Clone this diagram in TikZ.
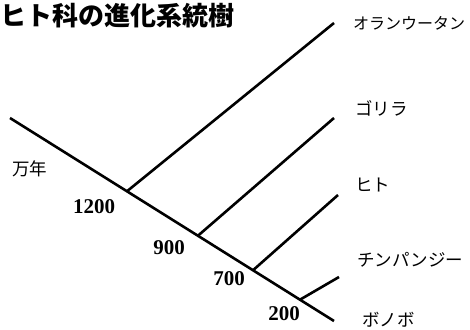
\documentclass[tikz,border=0pt]{standalone}
\usepackage{fontspec}
\setmainfont{Liberation Serif}
\newfontfamily\jp{Noto Sans CJK JP}
\usetikzlibrary{calc}
\begin{document}
\begin{tikzpicture}[x=1pt,y=-1pt,
  branch/.style={line width=2.6pt,line cap=butt},
  sp/.style={font=\jp\fontsize{17.5}{17.5}\selectfont,anchor=west,inner sep=0pt},
  yr/.style={font=\bfseries\fontsize{21}{21}\selectfont,inner sep=0pt},
  ttl/.style={font=\jp\bfseries\fontsize{26}{26}\selectfont,anchor=west,inner sep=0pt}]
\useasboundingbox (0,0) rectangle (470,329);
\node[ttl] (title) at (0,16) {ヒト科の進化系統樹};
% main line
\coordinate (s) at (10,118);
\coordinate (e) at (334,321);
\coordinate (j1) at ($(s)!0.361!(e)$);
\coordinate (j2) at ($(s)!0.580!(e)$);
\coordinate (j3) at ($(s)!0.750!(e)$);
\coordinate (j4) at ($(s)!0.895!(e)$);
\coordinate (t1) at (334,23);
\coordinate (t2) at (334,118);
\coordinate (t3) at (338,195);
\coordinate (t4) at (339,277);
\draw[branch] (s) -- (e);
\draw[branch] (j1) -- (t1);
\draw[branch] (j2) -- (t2);
\draw[branch] (j3) -- (t3);
\draw[branch] (j4) -- (t4);
% species
\node[sp,font=\jp\fontsize{16}{16}\selectfont] (orang) at (353,23) {オランウータン};
\node[sp] (gor) at (355,108) {ゴリラ};
\node[sp] (hito) at (355,185) {ヒト};
\node[sp] (chimp) at (357,260) {チンパンジー};
\node[sp] (bono) at (362,320) {ボノボ};
\node[sp] (unit) at (12,169) {万年};
% years
\node[yr] (y1) at (94,207) {1200};
\node[yr] (y2) at (169,248) {900};
\node[yr] (y3) at (229,279) {700};
\node[yr] (y4) at (284,314) {200};
\end{tikzpicture}
\end{document}
